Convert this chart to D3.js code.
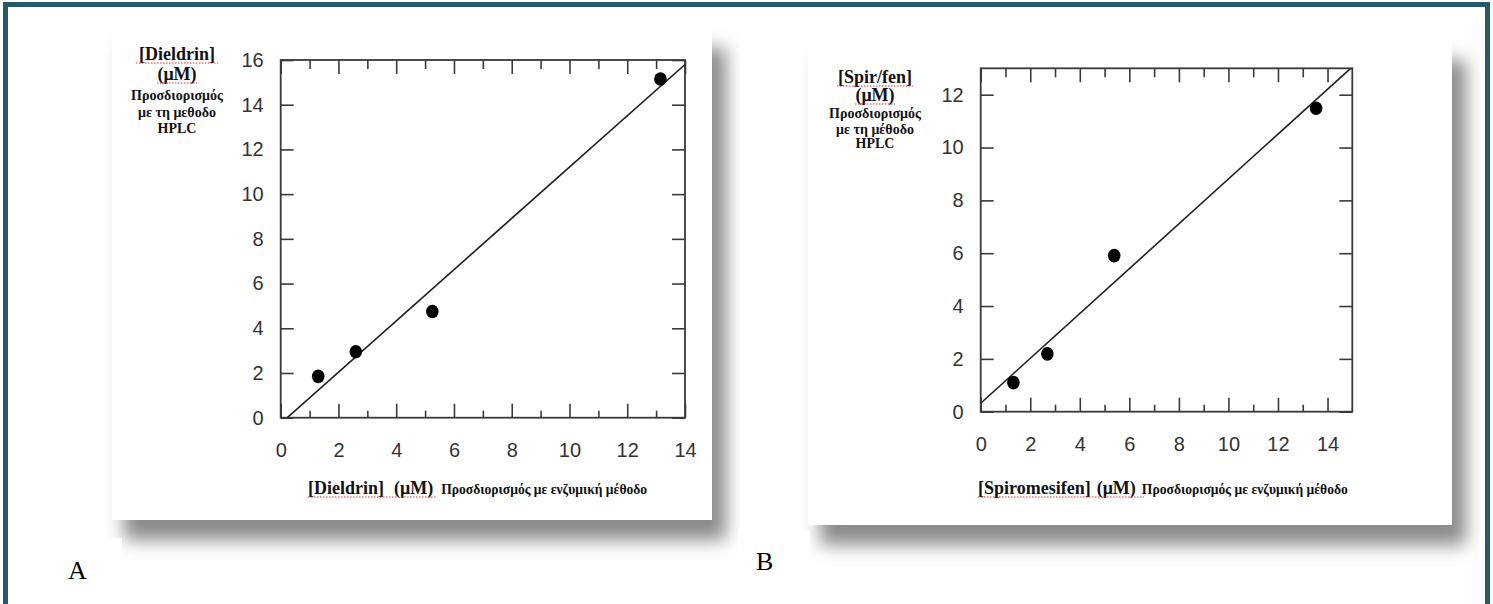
<!DOCTYPE html>
<html><head><meta charset="utf-8">
<script src="https://cdn.jsdelivr.net/npm/d3@7"></script>
<style>
html,body{margin:0;padding:0;background:#fff;}
svg{display:block;}
</style></head>
<body>
<svg id="chart" width="1493" height="604"></svg>
<script>
// ---- Data ----
const dieldrinEnzyme = [1.3, 2.6, 5.25, 13.15];
const dieldrinHPLC   = [1.85, 2.95, 4.75, 15.15];
const dieldrinFit    = [1.147, -0.26];   // slope, intercept
const dieldrinXTicks = [0, 2, 4, 6, 8, 10, 12, 14];
const dieldrinYTicks = [0, 2, 4, 6, 8, 10, 12, 14, 16];

const spiroEnzyme = [1.32, 2.69, 5.39, 13.54];
const spiroHPLC   = [1.10, 2.19, 5.91, 11.49];
const spiroFit    = [0.849, 0.32];
const spiroXTicks = [0, 2, 4, 6, 8, 10, 12, 14];
const spiroYTicks = [0, 2, 4, 6, 8, 10, 12];

const panelLetters = ["A", "B"];
const yTitlesA = ["[Dieldrin]", "(μM)", "Προσδιορισμός", "με τη μεθοδο", "HPLC"];
const yTitlesB = ["[Spir/fen]", "(μM)", "Προσδιορισμός", "με τη μέθοδο", "HPLC"];
const xTitleA = ["[Dieldrin]", "(μM)", "Προσδιορισμός με ενζυμική μέθοδο"];
const xTitleB = ["[Spiromesifen]", "(μM)", "Προσδιορισμός με ενζυμική μέθοδο"];

const svg = d3.select("#chart");
const defs = svg.append("defs");
const blur = defs.append("filter").attr("id","shadowBlur")
  .attr("x","-20%").attr("y","-20%").attr("width","140%").attr("height","140%");
blur.append("feGaussianBlur").attr("stdDeviation", 9);

// outer border
const borderColor = "#25596b";
svg.append("line").attr("x1",3).attr("x2",1490).attr("y1",4.5).attr("y2",4.5)
  .attr("stroke",borderColor).attr("stroke-width",5);
svg.append("line").attr("x1",5.5).attr("x2",5.5).attr("y1",2).attr("y2",604)
  .attr("stroke",borderColor).attr("stroke-width",5);
svg.append("line").attr("x1",1487.5).attr("x2",1487.5).attr("y1",2).attr("y2",604)
  .attr("stroke",borderColor).attr("stroke-width",5);

function panel(cfg, idx) {
  const clipId = "clip" + idx;
  defs.append("clipPath").attr("id", clipId).append("rect")
    .attr("x", cfg.img[0]).attr("y", cfg.img[1]).attr("width", cfg.img[2]).attr("height", cfg.img[3]);
  const imgG = svg.append("g").attr("clip-path", `url(#${clipId})`);
  const c = cfg.card;
  imgG.append("rect").attr("x", c[0]+12).attr("y", c[1]+20).attr("width", c[2]+2).attr("height", c[3])
    .attr("fill", "#8a8a8a").attr("filter","url(#shadowBlur)");
  imgG.append("rect").attr("x", c[0]).attr("y", c[1]).attr("width", c[2]).attr("height", c[3]).attr("fill","#fff");

  const lb = cfg.letterBox;
  svg.append("rect").attr("x", lb[0]).attr("y", lb[1]).attr("width", lb[2]).attr("height", lb[3]).attr("fill","#fff");
  svg.append("text").attr("x", cfg.letterPos[0]).attr("y", cfg.letterPos[1])
    .attr("font-family","Liberation Serif, serif").attr("font-size",26).attr("fill","#000")
    .text(panelLetters[idx]);

  const p = cfg.plot;
  const x = d3.scaleLinear().domain(cfg.xDomain).range([p[0], p[2]]);
  const y = d3.scaleLinear().domain(cfg.yDomain).range([p[3], p[1]]);
  const g = svg.append("g");
  const tickColor = "#3a3a3a";
  const fontTick = "Liberation Sans, Arial, sans-serif";
  const minorX = d3.range(1, cfg.xDomain[1], 2);

  g.append("g").attr("transform", `translate(0,${p[3]})`)
    .call(d3.axisBottom(x).tickValues(cfg.xTicks).tickSizeInner(-14).tickSizeOuter(0).tickPadding(25).tickFormat(d3.format("d")))
    .call(a => a.select(".domain").remove())
    .call(a => a.selectAll("line").attr("stroke", tickColor).attr("stroke-width",1.6))
    .call(a => a.selectAll("text").attr("font-family", fontTick).attr("font-size", 20).attr("fill","#333"));
  g.append("g").attr("transform", `translate(0,${p[3]})`)
    .call(d3.axisBottom(x).tickValues(minorX).tickSizeInner(-7).tickSizeOuter(0).tickFormat(""))
    .call(a => a.select(".domain").remove())
    .call(a => a.selectAll("line").attr("stroke", tickColor).attr("stroke-width",1.6));
  g.append("g").attr("transform", `translate(0,${p[1]})`)
    .call(d3.axisTop(x).tickValues(cfg.xTicks).tickSizeInner(-14).tickSizeOuter(0).tickFormat(""))
    .call(a => a.select(".domain").remove())
    .call(a => a.selectAll("line").attr("stroke", tickColor).attr("stroke-width",1.6));
  g.append("g").attr("transform", `translate(0,${p[1]})`)
    .call(d3.axisTop(x).tickValues(minorX).tickSizeInner(-9).tickSizeOuter(0).tickFormat(""))
    .call(a => a.select(".domain").remove())
    .call(a => a.selectAll("line").attr("stroke", tickColor).attr("stroke-width",1.6));
  g.append("g").attr("transform", `translate(${p[0]},0)`)
    .call(d3.axisLeft(y).tickValues(cfg.yTicks).tickSizeInner(-13).tickSizeOuter(0).tickPadding(17).tickFormat(d3.format("d")))
    .call(a => a.select(".domain").remove())
    .call(a => a.selectAll("line").attr("stroke", tickColor).attr("stroke-width",1.6))
    .call(a => a.selectAll("text").attr("font-family", fontTick).attr("font-size", 20).attr("fill","#333"));
  g.append("g").attr("transform", `translate(${p[2]},0)`)
    .call(d3.axisRight(y).tickValues(cfg.yTicks).tickSizeInner(-13).tickSizeOuter(0).tickFormat(""))
    .call(a => a.select(".domain").remove())
    .call(a => a.selectAll("line").attr("stroke", tickColor).attr("stroke-width",1.6));
  g.append("rect").attr("x", p[0]).attr("y", p[1]).attr("width", p[2]-p[0]).attr("height", p[3]-p[1])
    .attr("fill","none").attr("stroke", tickColor).attr("stroke-width", 1.8);

  const fclip = "fclip" + idx;
  defs.append("clipPath").attr("id", fclip).append("rect")
    .attr("x", p[0]).attr("y", p[1]).attr("width", p[2]-p[0]).attr("height", p[3]-p[1]);
  const [s, b] = cfg.fit;
  const xs = [cfg.xDomain[0], cfg.xDomain[1]];
  g.append("path").attr("clip-path", `url(#${fclip})`)
    .datum(xs.map(v => [v, s*v + b]))
    .attr("d", d3.line().x(d => x(d[0])).y(d => y(d[1])))
    .attr("stroke","#1e1e1e").attr("stroke-width",1.6).attr("fill","none");

  g.selectAll("ellipse.pt").data(cfg.xs.map((v,i)=>[v, cfg.ys[i]])).enter()
    .append("ellipse").attr("class","pt")
    .attr("cx", d => x(d[0])).attr("cy", d => y(d[1]))
    .attr("rx", 6.3).attr("ry", 6.8).attr("fill","#000");

  const yt = cfg.yTitle, yp = cfg.yTitlePos;
  const serif = "Liberation Serif, Times New Roman, serif";
  yt.forEach((t,i) => {
    svg.append("text").attr("x", yp[0]).attr("y", yp[1] + cfg.yTitleOffsets[i])
      .attr("text-anchor","middle").attr("font-family", serif).attr("font-weight","bold")
      .attr("font-size", i < 2 ? 18 : 14).attr("fill","#111").text(t);
  });
  [0,1].forEach(i => {
    const w = cfg.yUnderW[i];
    svg.append("line").attr("x1", yp[0]-w/2).attr("x2", yp[0]+w/2)
      .attr("y1", yp[1] + cfg.yTitleOffsets[i] + 3).attr("y2", yp[1] + cfg.yTitleOffsets[i] + 3)
      .attr("stroke","#d33").attr("stroke-width",1).attr("stroke-dasharray","1.5,1.5");
  });
  const xt = svg.append("text").attr("x", cfg.xTitlePos[0]).attr("y", cfg.xTitlePos[1])
    .attr("font-family", serif).attr("font-weight","bold").attr("fill","#111");
  xt.append("tspan").attr("font-size",18).text(cfg.xTitle[0]);
  xt.append("tspan").attr("font-size",18).attr("dx",cfg.xGap[0]).text(cfg.xTitle[1]);
  xt.append("tspan").attr("font-size",13.6).attr("dx",cfg.xGap[1]).text(cfg.xTitle[2]);
  svg.append("line").attr("x1", cfg.xTitlePos[0]).attr("x2", cfg.xTitlePos[0] + cfg.xUnderW)
    .attr("y1", cfg.xTitlePos[1]+3).attr("y2", cfg.xTitlePos[1]+3)
    .attr("stroke","#d33").attr("stroke-width",1).attr("stroke-dasharray","1.5,1.5");
}

panel({
  img: [60, 18, 680, 549], card: [112, 28, 600, 492],
  letterBox: [40, 538, 82, 66], letterPos: [68, 579],
  plot: [280.7, 60, 685, 417.7], xDomain: [0, 14], yDomain: [0, 16],
  xTicks: dieldrinXTicks, yTicks: dieldrinYTicks, xs: dieldrinEnzyme, ys: dieldrinHPLC, fit: dieldrinFit,
  yTitle: yTitlesA, yTitlePos: [177, 60], yTitleOffsets: [0, 20, 40, 57, 73], yUnderW: [82, 40],
  xTitle: xTitleA, xTitlePos: [308, 494], xGap: [10, 8], xUnderW: 128
}, 0);

panel({
  img: [738, 18, 745, 552], card: [808, 40, 644, 485],
  letterBox: [738, 531, 72, 73], letterPos: [756, 570],
  plot: [980.7, 68.3, 1352.3, 411.7], xDomain: [0, 15], yDomain: [0, 13],
  xTicks: spiroXTicks, yTicks: spiroYTicks, xs: spiroEnzyme, ys: spiroHPLC, fit: spiroFit,
  yTitle: yTitlesB, yTitlePos: [875, 83], yTitleOffsets: [0, 18, 35, 51, 65], yUnderW: [76, 40],
  xTitle: xTitleB, xTitlePos: [978, 494], xGap: [6, 6], xUnderW: 166
}, 1);
</script>
</body></html>
